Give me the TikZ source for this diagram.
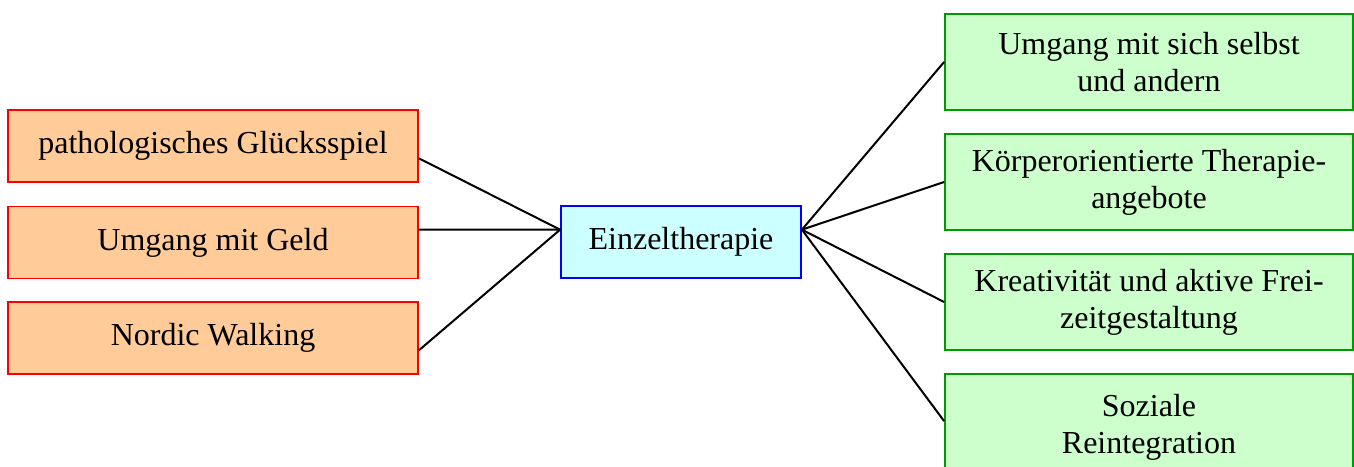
\documentclass[tikz,border=0pt]{standalone}
\usepackage{fontspec}
\setmainfont{Liberation Serif}
\usetikzlibrary{calc}
\definecolor{orangefill}{HTML}{FFCC99}
\definecolor{cyanfill}{HTML}{CCFFFF}
\definecolor{greenfill}{HTML}{CCFFCC}
\definecolor{greenline}{HTML}{009900}
\tikzset{
  box/.style={draw, line width=1.8pt, inner sep=0pt, align=center,
    font=\fontsize{32}{37}\selectfont},
  leftbox/.style={box, draw=red, fill=orangefill, minimum width=410pt, minimum height=72pt},
  centerbox/.style={box, draw=blue, fill=cyanfill, minimum width=240pt, minimum height=72pt},
  rightbox/.style={box, draw=greenline, fill=greenfill, minimum width=408pt, minimum height=96pt},
  link/.style={draw=black, line width=2pt}
}
\begin{document}
\begin{tikzpicture}[x=1pt,y=1pt]
\useasboundingbox (0,0) rectangle (1354,466);
\node[leftbox] (l1) at (213,320) {pathologisches Glücksspiel};
\node[leftbox] (l2) at (213,223.5) {Umgang mit Geld};
\node[leftbox] (l3) at (213,128) {Nordic Walking};
\node[centerbox] (c) at (681,224) {Einzeltherapie};
\node[rightbox] (r1) at (1149,404) {Umgang mit sich selbst\\und andern};
\node[rightbox] (r2) at (1149,284) {Körperorientierte Therapie-\\angebote};
\node[rightbox] (r3) at (1149,164) {Kreativität und aktive Frei-\\zeitgestaltung};
\node[rightbox, minimum height=106pt] (r4) at (1149,39) {Soziale\\Reintegration};
\coordinate (p1) at ($(l1.north east)!0.667!(l1.south east)$);
\coordinate (p2) at ($(l2.north east)!0.325!(l2.south east)$);
\coordinate (p3) at ($(l3.north east)!0.667!(l3.south east)$);
\coordinate (cw) at ($(c.north west)!0.333!(c.south west)$);
\coordinate (ce) at ($(c.north east)!0.333!(c.south east)$);
\coordinate (r4w) at ($(r4.north west)+(0,-48)$);
\draw[link] (p1) -- (cw);
\draw[link] (p2) -- (cw);
\draw[link] (p3) -- (cw);
\draw[link] (ce) -- (r1.west);
\draw[link] (ce) -- (r2.west);
\draw[link] (ce) -- (r3.west);
\draw[link] (ce) -- (r4w);
\end{tikzpicture}
\end{document}
